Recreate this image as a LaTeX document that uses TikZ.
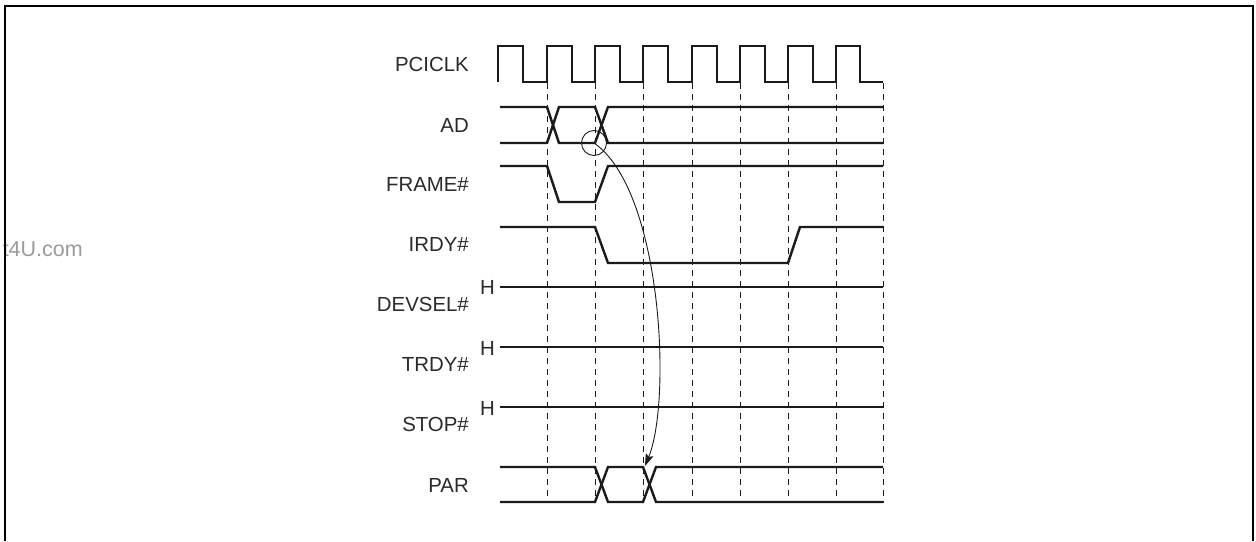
\documentclass[tikz,border=0pt]{standalone}
\usepackage{fontspec}
\setmainfont{Liberation Sans}
\usetikzlibrary{arrows.meta}
\definecolor{ink}{HTML}{1A1A1A}
\definecolor{txt}{HTML}{2A2A2A}
\definecolor{wm}{HTML}{9A9A9A}
\begin{document}
\begin{tikzpicture}[x=1pt,y=-1pt,
  sig/.style={draw=ink,line width=2.4pt,line join=miter},
  grid/.style={draw=ink,line width=0.9pt,dash pattern=on 6pt off 5pt},
  lbl/.style={anchor=east,inner sep=0pt,text=txt,font=\fontsize{20.4}{24}\selectfont},
  hlbl/.style={anchor=east,inner sep=0pt,text=txt,font=\fontsize{20.4}{24}\selectfont},
  thin/.style={draw=ink,line width=0.9pt}]
\useasboundingbox (0,0) rectangle (1256,541);
% watermark
\node[anchor=east,inner sep=0pt,text=wm,font=\fontsize{21.5}{26}\selectfont] (wmk) at (83,249) {t4U.com};
% frame
\draw[draw=black,line width=2.6pt] (5,541) -- (5,6) -- (1253,6) -- (1253,541);
% labels
\node[lbl] (lclk) at (469,64) {PCICLK};
\node[lbl] (lad) at (469,125) {AD};
\node[lbl] (lframe) at (469,184) {FRAME\#};
\node[lbl] (lirdy) at (469,244) {IRDY\#};
\node[lbl] (ldevsel) at (469,304) {DEVSEL\#};
\node[lbl] (ltrdy) at (469,364) {TRDY\#};
\node[lbl] (lstop) at (469,424) {STOP\#};
\node[lbl] (lpar) at (469,485) {PAR};
\node[hlbl] (h1) at (495,287) {H};
\node[hlbl] (h2) at (495,348) {H};
\node[hlbl] (h3) at (495,408) {H};
% dashed grid lines
\foreach \x in {547,595,643,692,740,788,836,883}
  \draw[grid] (\x,83) -- (\x,503);
% clock
\draw[sig] (498,82) -- (498,46) -- (523,46) -- (523,82) -- (547,82)
  -- (547,46) -- (572,46) -- (572,82) -- (595,82)
  -- (595,46) -- (620,46) -- (620,82) -- (643,82)
  -- (643,46) -- (668,46) -- (668,82) -- (692,82)
  -- (692,46) -- (717,46) -- (717,82) -- (740,82)
  -- (740,46) -- (765,46) -- (765,82) -- (788,82)
  -- (788,46) -- (813,46) -- (813,82) -- (836,82)
  -- (836,46) -- (860,46) -- (860,82) -- (883,82);
% AD
\draw[sig] (500,107) -- (547,107) -- (559,143) -- (595,143) -- (608,107) -- (883,107);
\draw[sig] (500,143) -- (547,143) -- (559,107) -- (595,107) -- (608,143) -- (883,143);
% FRAME#
\draw[sig] (500,166) -- (547,166) -- (559,202) -- (595,202) -- (608,166) -- (883,166);
% IRDY#
\draw[sig] (500,227) -- (595,227) -- (608,263) -- (788,263) -- (800,227) -- (883,227);
% DEVSEL#, TRDY#, STOP#
\draw[sig] (500,287) -- (883,287);
\draw[sig] (500,347) -- (883,347);
\draw[sig] (500,407) -- (883,407);
% PAR
\draw[sig] (500,467) -- (595,467) -- (608,502) -- (643,502) -- (656,467) -- (883,467);
\draw[sig] (500,502) -- (595,502) -- (608,467) -- (643,467) -- (656,502) -- (883,502);
% circle and arrow
\coordinate (src) at (594,143);
\coordinate (dst) at (645,466);
\draw[thin] (src) circle (12.5);
\draw[thin,-{Stealth[length=12pt,width=8pt,inset=2pt]}] (src) .. controls (662,190) and (672,400) .. (dst);
\end{tikzpicture}
\end{document}
